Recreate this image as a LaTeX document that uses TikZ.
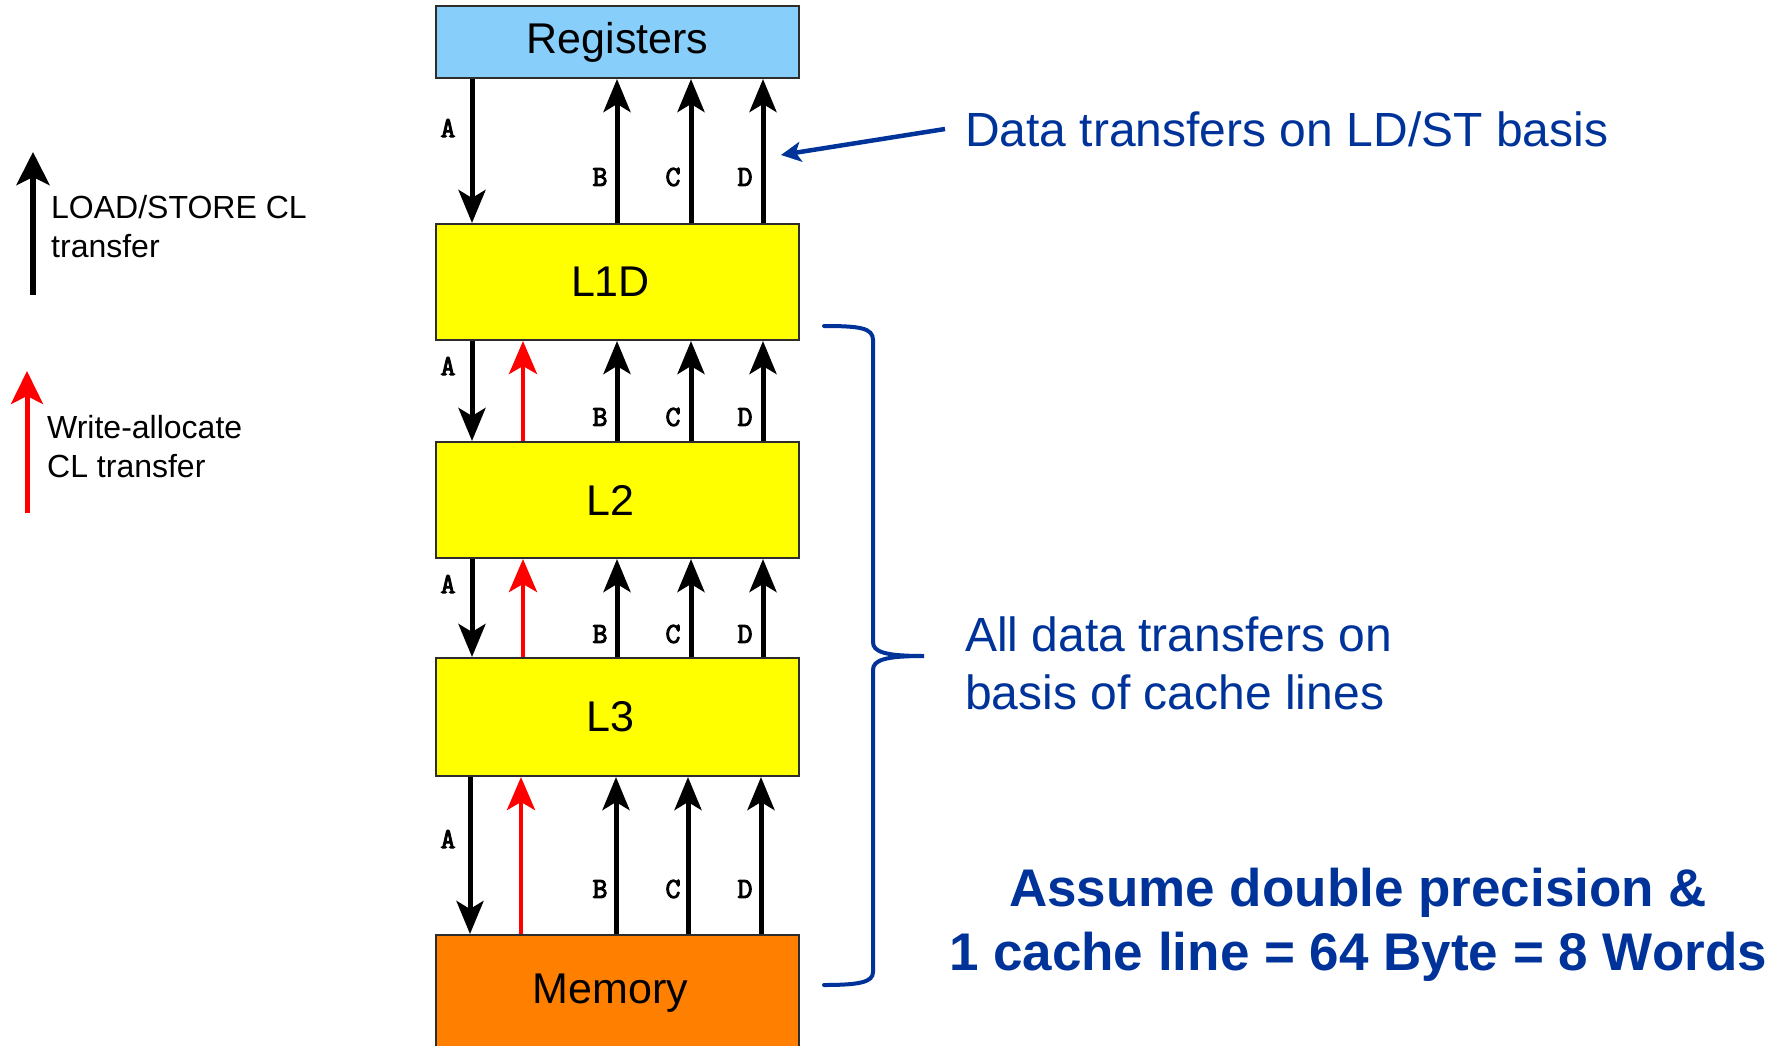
\documentclass[tikz,border=0pt]{standalone}
\usepackage{fontspec}
\setmainfont{Liberation Sans}
\newfontfamily\monob[FakeBold=3.5]{Latin Modern Mono}
\usetikzlibrary{arrows.meta,calc}
\definecolor{regblue}{RGB}{135,206,250}
\definecolor{cacheyellow}{RGB}{255,255,0}
\definecolor{memorange}{RGB}{255,128,0}
\definecolor{txtblue}{RGB}{0,51,153}
\definecolor{boxborder}{RGB}{45,45,45}
\tikzset{
  levelbox/.style={draw=boxborder, line width=2pt, minimum width=363pt, inner sep=0pt,
    font=\fontsize{43}{50}\selectfont},
  xfer/.style={line width=5pt, -{Stealth[length=33pt,width=27pt,inset=8pt]}},
  walloc/.style={line width=4.5pt, red, -{Stealth[length=33pt,width=28pt,inset=8pt]}},
  lbl/.style={font=\monob\fontsize{29}{30}\selectfont, inner sep=0pt},
  legtext/.style={font=\fontsize{32}{39}\selectfont, align=left, anchor=west, inner sep=0pt},
  bluetext/.style={text=txtblue, font=\fontsize{48}{58}\selectfont, align=left, anchor=west, inner sep=0pt},
}
\begin{document}
\begin{tikzpicture}[x=1pt,y=-1pt]
\useasboundingbox (0,0) rectangle (1785,1046);
\clip (0,0) rectangle (1785,1046);
% boxes
\node[levelbox, fill=regblue, minimum height=72pt] (reg) at (617.5,42) {Registers};
\node[levelbox, fill=cacheyellow, minimum height=116pt] (l1) at (617.5,282) {L1D\hspace*{14pt}};
\node[levelbox, fill=cacheyellow, minimum height=116pt] (l2) at (617.5,500) {L2\hspace*{14pt}};
\node[levelbox, fill=cacheyellow, minimum height=118pt] (l3) at (617.5,717) {L3\hspace*{14pt}};
\node[levelbox, fill=memorange, minimum height=116pt] (mem) at (617.5,993) {Memory\hspace*{14pt}};
% column positions
\coordinate (xA) at (472,0);
\coordinate (xR) at (523,0);
\coordinate (xB) at (617,0);
\coordinate (xC) at (691,0);
\coordinate (xD) at (763,0);
\coordinate (xA4) at (470,0);
\coordinate (xR4) at (521,0);
\coordinate (xB4) at (616,0);
\coordinate (xC4) at (688,0);
\coordinate (xD4) at (761,0);
% Registers <-> L1D
\draw[xfer] (reg.south -| xA) -- (l1.north -| xA);
\draw[xfer] (l1.north -| xB) -- (reg.south -| xB);
\draw[xfer] (l1.north -| xC) -- (reg.south -| xC);
\draw[xfer] (l1.north -| xD) -- (reg.south -| xD);
\node[lbl] (a1) at (448,128) {A};
\node[lbl] (b1) at (600,177) {B};
\node[lbl] (c1) at (673,177) {C};
\node[lbl] (d1) at (745,177) {D};
% L1D <-> L2
\draw[xfer] (l1.south -| xA) -- (l2.north -| xA);
\draw[walloc] (l2.north -| xR) -- (l1.south -| xR);
\draw[xfer] (l2.north -| xB) -- (l1.south -| xB);
\draw[xfer] (l2.north -| xC) -- (l1.south -| xC);
\draw[xfer] (l2.north -| xD) -- (l1.south -| xD);
\node[lbl] (a2) at (448,366) {A};
\node[lbl] (b2) at (600,417) {B};
\node[lbl] (c2) at (673,417) {C};
\node[lbl] (d2) at (745,417) {D};
% L2 <-> L3
\draw[xfer] (l2.south -| xA) -- (l3.north -| xA);
\draw[walloc] (l3.north -| xR) -- (l2.south -| xR);
\draw[xfer] (l3.north -| xB) -- (l2.south -| xB);
\draw[xfer] (l3.north -| xC) -- (l2.south -| xC);
\draw[xfer] (l3.north -| xD) -- (l2.south -| xD);
\node[lbl] (a3) at (448,584) {A};
\node[lbl] (b3) at (600,634) {B};
\node[lbl] (c3) at (673,634) {C};
\node[lbl] (d3) at (745,634) {D};
% L3 <-> Memory
\draw[xfer] (l3.south -| xA4) -- (mem.north -| xA4);
\draw[walloc] (mem.north -| xR4) -- (l3.south -| xR4);
\draw[xfer] (mem.north -| xB4) -- (l3.south -| xB4);
\draw[xfer] (mem.north -| xC4) -- (l3.south -| xC4);
\draw[xfer] (mem.north -| xD4) -- (l3.south -| xD4);
\node[lbl] (a4) at (448,839) {A};
\node[lbl] (b4) at (600,889) {B};
\node[lbl] (c4) at (673,889) {C};
\node[lbl] (d4) at (745,889) {D};
% legend
\coordinate (lg1s) at (33,295);
\coordinate (lg1e) at (33,152);
\draw[line width=6pt, -{Stealth[length=33pt,width=33pt,inset=8pt]}] (lg1s) -- (lg1e);
\node[legtext] (lg1) at (51,227) {LOAD/STORE CL\\transfer};
\coordinate (lg2s) at (27,513);
\coordinate (lg2e) at (27,371);
\draw[red, line width=5pt, -{Stealth[length=33pt,width=32pt,inset=8pt]}] (lg2s) -- (lg2e);
\node[legtext] (lg2) at (47,447) {Write-allocate\\CL transfer};
% right annotations
\node[bluetext] (ldst) at (965,129) {Data transfers on LD/ST basis};
\coordinate (ptr) at (781,155);
\draw[txtblue, line width=4.5pt, -{Stealth[length=20pt,width=20pt,inset=5pt]}] ([xshift=-20pt]ldst.west) -- (ptr);
\draw[txtblue, line width=4pt, line cap=round]
  (824,326) .. controls (860,326) and (873,328) .. (873,340) -- (873,642)
  .. controls (873,652) and (885,656) .. (924,656)
  .. controls (885,656) and (873,660) .. (873,670) -- (873,972)
  .. controls (873,982) and (860,985) .. (824,985);
\node[bluetext] (cl) at (965,663) {All data transfers on\\basis of cache lines};
\node[text=txtblue, font=\bfseries\fontsize{53}{64}\selectfont, align=center, inner sep=0pt] (dp) at (1358,925) {Assume double precision \&\\1 cache line = 64 Byte = 8 Words};
\end{tikzpicture}
\end{document}
